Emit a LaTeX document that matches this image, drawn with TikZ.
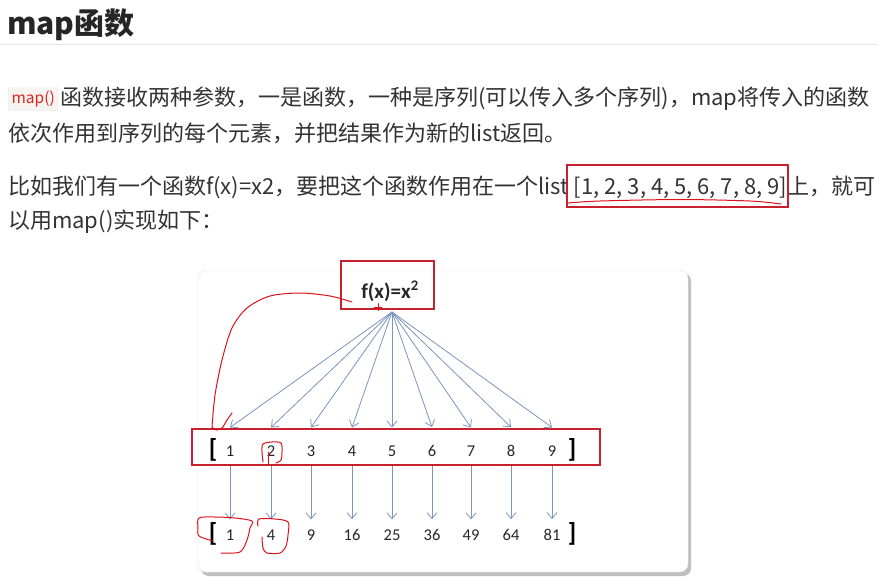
\documentclass[tikz,border=0pt]{standalone}
\usepackage{fontspec}
\setmainfont{Noto Sans CJK SC}
\newfontfamily\calfont{Carlito}
\usetikzlibrary{arrows.meta}
\definecolor{txt}{HTML}{333333}
\definecolor{arr}{HTML}{7B96BC}
\definecolor{boxred}{HTML}{C8202F}
\definecolor{penred}{HTML}{E0101A}
\definecolor{codebg}{HTML}{F7F3F1}
\definecolor{codefg}{HTML}{D7261E}
\begin{document}
\begin{tikzpicture}[x=1pt,y=-1pt,
  body/.style={anchor=west, inner sep=0pt, text=txt, font=\fontsize{22}{26}\selectfont},
  num/.style={font=\calfont\fontsize{16.5}{18}\selectfont, text=black!85, inner sep=1pt},
  brk/.style={font=\calfont\bfseries\fontsize{26}{28}\selectfont, inner sep=0pt},
  farr/.style={draw=arr, line width=0.8pt, -{Straight Barb[length=6pt,width=10pt]}},
  redbox/.style={draw=boxred, line width=1.3pt},
  pen/.style={draw=penred, line width=1pt, line cap=round, line join=round}]
\useasboundingbox[fill=white] (0,0) rectangle (877,579);

% title
\node[anchor=west, inner sep=0pt, font=\bfseries\fontsize{30}{33}\selectfont, text=black!85] (title) at (7,25) {map函数};
\draw[black!10, line width=1pt] (0,44) -- (877,44);

% paragraph 1
\node[anchor=west, fill=codebg, draw=black!8, rounded corners=2pt, inner xsep=3pt, inner ysep=2pt, minimum height=23pt, minimum width=50pt, font=\fontsize{15.5}{17}\selectfont, text=codefg] (code) at (8,99) {map()};
\node[body] (l1) at (60,99) {函数接收两种参数，一是函数，一种是序列(可以传入多个序列)，map将传入的函数};
\node[body] (l2) at (8,133) {依次作用到序列的每个元素，并把结果作为新的list返回。};

% paragraph 2
\node[body] (l3) at (8,187) {比如我们有一个函数f(x)=x2，要把这个函数作用在一个list [1, 2, 3, 4, 5, 6, 7, 8, 9]上，就可};
\node[body] (l4) at (8,222) {以用map()实现如下：};
\draw[redbox] (567,165) rectangle (788,207);
\draw[pen] plot[smooth] coordinates {(568,203) (600,201) (680,199.5) (750,201) (781,204)};

% card
\fill[black!25, rounded corners=8pt] (201,273) rectangle (691,576);
\fill[white, draw=black!12, rounded corners=8pt] (198,270) rectangle (688,572);

% function
\node[font=\calfont\bfseries\fontsize{21}{24}\selectfont, text=black!85] (f) at (390,291) {f(x)=x\textsuperscript{2}};
\draw[redbox] (341,261) rectangle (434,309);
\coordinate (apex) at (392,312);

% rows
\node[brk] (lb) at (213,450) {[};
\node[brk] (rb) at (572,450) {]};
\node[brk] (lb2) at (213,534) {[};
\node[brk] (rb2) at (572,534) {]};
\foreach \i/\x/\v in {1/230/1,2/271/4,3/311/9,4/352/16,5/392/25,6/432/36,7/471/49,8/511/64,9/552/81}{
  \node[num] (n\i) at (\x,451) {\i};
  \node[num] (m\i) at (\x,535) {\v};
  \draw[farr] (apex) -- ([yshift=17pt]n\i.north);
  \draw[farr] ([yshift=-8pt]n\i.south) -- ([yshift=9pt]m\i.north);
}
\draw[redbox] (192,429) rectangle (600,465);

% hand-drawn marks
\draw[pen] plot[smooth] coordinates {(352,302) (330,296) (300,293) (270,296) (247,308) (232,328) (222,360) (215,395) (212,427)};
\draw[pen] plot[smooth] coordinates {(212,427) (216,430) (222,428) (227,420) (232,413)};
\draw[pen, line width=0.8pt] (374,307) -- (382,307) (378,303.5) -- (378,310.5);
\draw[pen] plot[smooth] coordinates {(263,462) (262,452) (263,444) (272,442) (281,443) (282,452) (281,460) (276,463)};
\draw[pen] (268,452) -- (268,464);
\draw[pen] plot[smooth] coordinates {(221,553) (240,552) (247,540) (250,528) (252,521) (235,518) (215,517) (199,518) (198,528) (199,536) (213,541)};
\draw[pen] plot[smooth] coordinates {(262,537) (263,548) (267,553) (280,553) (286,546) (288,535) (288,522) (275,519) (259,519) (258,526)};
\end{tikzpicture}
\end{document}
